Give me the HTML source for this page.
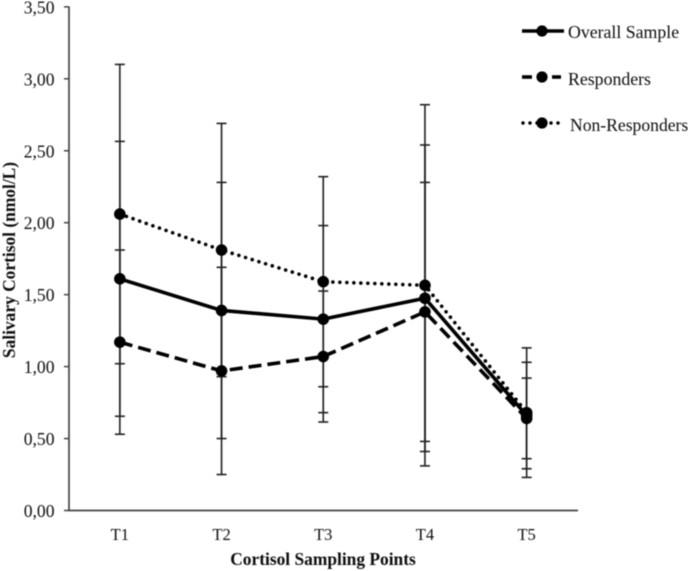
<!DOCTYPE html>
<html>
<head>
<meta charset="utf-8">
<title>Salivary Cortisol Chart</title>
<style>
html,body{margin:0;padding:0;background:#fff;}
svg{display:block;}
text{font-family:"Liberation Serif",serif;fill:#0d0d0d;}
</style>
</head>
<body>
<svg id="chart" width="688" height="571" viewBox="0 0 688 571" xmlns="http://www.w3.org/2000/svg">
<defs><filter id="soft" x="-5%" y="-5%" width="110%" height="110%"><feGaussianBlur stdDeviation="0.42"/></filter></defs>
<g id="root" filter="url(#soft)">
<line x1="69" y1="6.5" x2="69" y2="511" stroke="#444" stroke-width="1.7"/>
<line x1="68" y1="510.5" x2="578" y2="510.5" stroke="#444" stroke-width="1.7"/>
<text transform="translate(15,260) rotate(-90)" text-anchor="middle" font-size="17.4" style="font-weight:bold">Salivary Cortisol (nmol/L)</text>
<text x="323" y="565" text-anchor="middle" font-size="17.4" style="font-weight:bold">Cortisol Sampling Points</text>
<g>
<g>
<line x1="522" y1="31" x2="564" y2="31" stroke="#000" stroke-width="3.6"/>
<circle cx="542" cy="31" r="5.6" fill="#000"/>
<text x="568" y="38" font-size="17.8">Overall Sample</text>
</g>
<g>
<line x1="522" y1="77" x2="532" y2="77" stroke="#000" stroke-width="3.6"/>
<line x1="552" y1="77" x2="561" y2="77" stroke="#000" stroke-width="3.6"/>
<circle cx="542" cy="77" r="5.6" fill="#000"/>
<text x="568" y="85" font-size="17.8">Responders</text>
</g>
<g>
<line x1="523" y1="123" x2="560" y2="123" stroke="#000" stroke-width="3.5" stroke-linecap="round" stroke-dasharray="0 7"/>
<circle cx="542" cy="123" r="5.6" fill="#000"/>
<text x="570" y="131" font-size="17.6">Non-Responders</text>
</g>
</g>
</g>
</svg>
<script>
const categories = ['T1', 'T2', 'T3', 'T4', 'T5'];
const yTickValues = [0, 0.5, 1, 1.5, 2, 2.5, 3, 3.5];
const yTickLabels = ['0,00', '0,50', '1,00', '1,50', '2,00', '2,50', '3,00', '3,50'];
const overallValues = [1.61, 1.39, 1.33, 1.475, 0.66];
const overallErrors = [0.955, 0.89, 0.65, 1.065, 0.37];
const responderValues = [1.17, 0.97, 1.07, 1.38, 0.64];
const responderErrors = [0.64, 0.72, 0.455, 0.90, 0.28];
const nonResponderValues = [2.06, 1.81, 1.59, 1.565, 0.68];
const nonResponderErrors = [1.04, 0.88, 0.73, 1.255, 0.45];

const NS = 'http://www.w3.org/2000/svg';
const root = document.getElementById('root');
function xScale(i) { return 69 + (i + 0.5) * 101.7; }
function yScale(v) { return 510.5 - v * 143.9; }
function make(tag, attrs, parent) {
  const el = document.createElementNS(NS, tag);
  for (const k in attrs) el.setAttribute(k, attrs[k]);
  parent.appendChild(el);
  return el;
}

yTickValues.forEach(function (v, i) {
  const tick = make('line', { x1: 64, x2: 69, y1: yScale(v), y2: yScale(v), stroke: '#444', 'stroke-width': 1.5 }, root);
  
  
  const label = make('text', { x: 54.5, y: yScale(v) + 6.5, 'text-anchor': 'end', 'font-size': 17.6 }, root);
  
  
  label.textContent = yTickLabels[i];
});

categories.forEach(function (c, i) {
  const label = make('text', { x: xScale(i), y: 540, 'text-anchor': 'middle', 'font-size': 16.5 }, root);
  
  
  label.textContent = c;
});

function drawErrors(values, errors, key) {
  const g = make('g', { stroke: '#222', 'stroke-width': 1.6 }, root);
  
  
  values.forEach(function (v, i) {
    const x = xScale(i);
    const hi = yScale(v + errors[i]);
    const lo = yScale(v - errors[i]);
    const stem = make('line', { x1: x, x2: x, y1: hi, y2: lo }, g);
    
    
    const capTop = make('line', { x1: x - 5, x2: x + 5, y1: hi, y2: hi }, g);
    
    
    const capBottom = make('line', { x1: x - 5, x2: x + 5, y1: lo, y2: lo }, g);
    
    
  });
}

function drawSeries(values, key, lineAttrs) {
  const pts = values.map(function (v, i) { return xScale(i) + ',' + yScale(v); }).join(' ');
  const attrs = { points: pts, fill: 'none', stroke: '#000', 'stroke-width': 3.6 };
  for (const k in lineAttrs) attrs[k] = lineAttrs[k];
  const line = make('polyline', attrs, root);
  
  
  values.forEach(function (v, i) {
    const pt = make('circle', { cx: xScale(i), cy: yScale(v), r: 5.8, fill: '#000' }, root);
    
    
  });
}

drawErrors(nonResponderValues, nonResponderErrors, 'non-responders');
drawErrors(overallValues, overallErrors, 'overall');
drawErrors(responderValues, responderErrors, 'responders');
drawSeries(nonResponderValues, 'non-responders', { 'stroke-linecap': 'round', 'stroke-dasharray': '0 7' });
drawSeries(responderValues, 'responders', { 'stroke-dasharray': '13 6' });
drawSeries(overallValues, 'overall', {});
</script>
</body>
</html>
